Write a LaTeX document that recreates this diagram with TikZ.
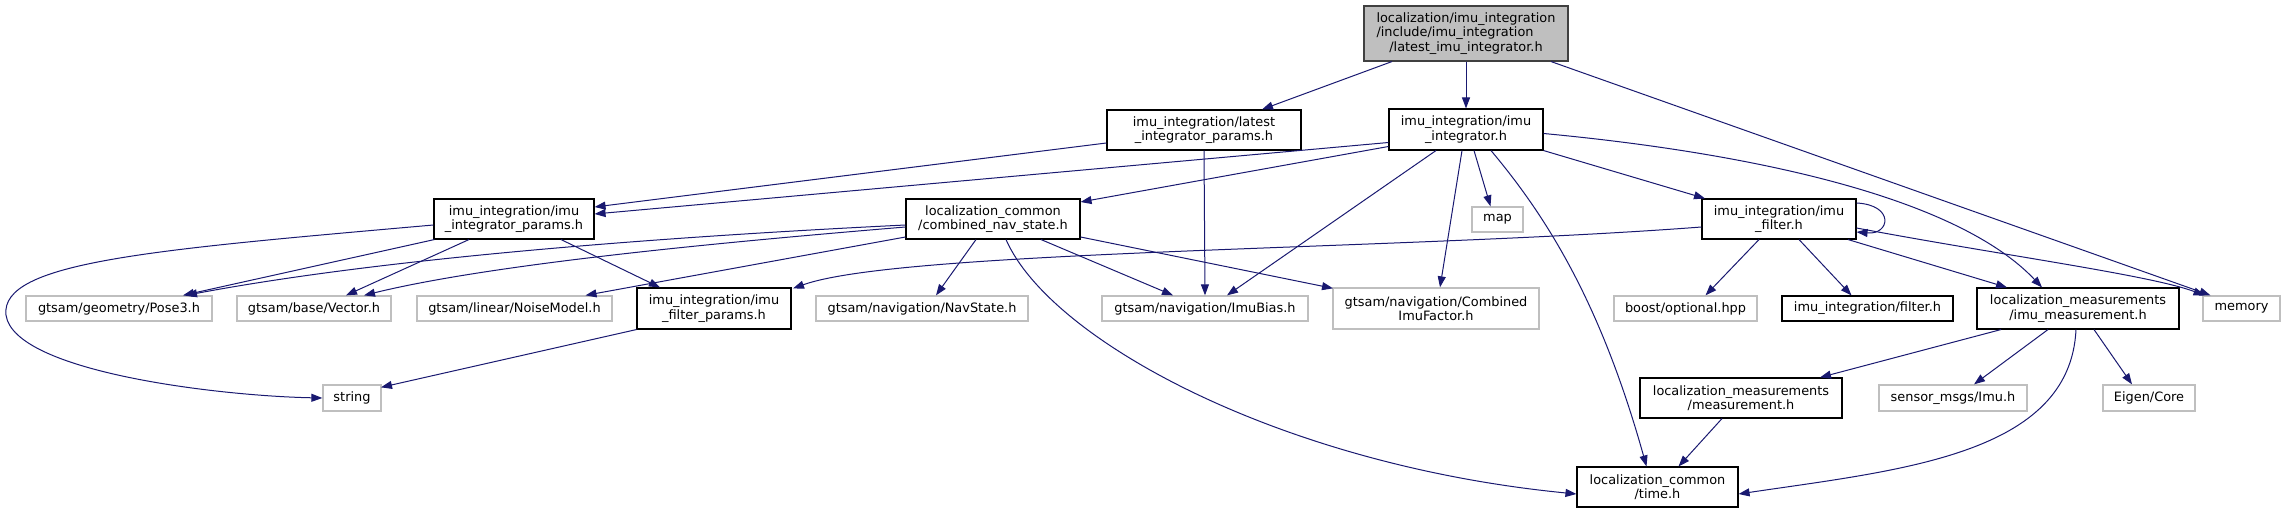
\documentclass[tikz,border=0pt]{standalone}
\usepackage{fontspec}
\setmainfont{DejaVu Sans}
\usetikzlibrary{arrows.meta}
\definecolor{edgeBlue}{RGB}{25,25,112}
\definecolor{boxGray}{RGB}{191,191,191}
\definecolor{rootLine}{RGB}{64,64,64}
\tikzset{
  hdr/.style={draw=black,line width=1.1pt,align=center,inner sep=1pt,font=\fontsize{12.9}{14.5}\selectfont},
  sys/.style={hdr,draw=boxGray,line width=1.3pt,minimum height=25pt},
  inc/.style={edgeBlue,line width=1pt,-{Triangle[length=11pt,width=8pt]}}
}

\begin{document}
\begin{tikzpicture}[x=1pt,y=-1pt]
\useasboundingbox (0,0) rectangle (2286,513);
% headers
\node[hdr,fill=boxGray,draw=rootLine,minimum width=204pt,minimum height=55pt] (root) at (1466,33.5) {\begin{tabular}{@{}l@{}}localization/imu\_integration\\/include/imu\_integration\end{tabular}\\/latest\_imu\_integrator.h};
\node[hdr,minimum width=194pt,minimum height=40pt] (latestp) at (1204,130) {imu\_integration/latest\\\_integrator\_params.h};
\node[hdr,minimum width=154pt,minimum height=41pt] (integ) at (1466,129.5) {imu\_integration/imu\\\_integrator.h};
\node[hdr,minimum width=160pt,minimum height=40pt] (intp) at (514,219) {imu\_integration/imu\\\_integrator\_params.h};
\node[hdr,minimum width=174pt,minimum height=40pt] (navst) at (993,219) {localization\_common\\/combined\_nav\_state.h};
\node[sys,minimum width=51pt] (map) at (1497.5,219.5) {map};
\node[hdr,minimum width=154pt,minimum height=40pt] (filt) at (1779,219) {imu\_integration/imu\\\_filter.h};
\node[sys,minimum width=186pt] (pose) at (119,308.5) {gtsam/geometry/Pose3.h};
\node[sys,minimum width=154pt] (vec) at (314,308.5) {gtsam/base/Vector.h};
\node[sys,minimum width=195pt] (noise) at (514.5,308.5) {gtsam/linear/NoiseModel.h};
\node[hdr,minimum width=154pt,minimum height=41pt] (fparams) at (714,308.5) {imu\_integration/imu\\\_filter\_params.h};
\node[sys,minimum width=212pt] (navh) at (922,308.5) {gtsam/navigation/NavState.h};
\node[sys,minimum width=206pt] (bias) at (1205,308.5) {gtsam/navigation/ImuBias.h};
\node[sys,minimum width=206pt,minimum height=41pt] (comb) at (1436,308.5) {gtsam/navigation/Combined\\ImuFactor.h};
\node[sys,minimum width=143pt] (opt) at (1685.5,308.5) {boost/optional.hpp};
\node[hdr,minimum width=171pt,minimum height=25pt] (filth) at (1867.5,308.5) {imu\_integration/filter.h};
\node[hdr,minimum width=202pt,minimum height=41pt] (imeas) at (2078,308.5) {localization\_measurements\\/imu\_measurement.h};
\node[sys,minimum width=77pt] (mem) at (2241.5,308.5) {memory};
\node[sys,minimum width=58pt,minimum height=26pt] (str) at (352,398) {string};
\node[hdr,minimum width=202pt,minimum height=40pt] (meas) at (1741,398) {localization\_measurements\\/measurement.h};
\node[sys,minimum width=148pt,minimum height=26pt] (imu) at (1953,398) {sensor\_msgs/Imu.h};
\node[sys,minimum width=92pt,minimum height=26pt] (eig) at (2149,398) {Eigen/Core};
\node[hdr,minimum width=161pt,minimum height=40pt] (time) at (1657.5,487) {localization\_common\\/time.h};
% includes of the root
\draw[inc] ([xshift=-74pt]root.south) -- ([xshift=58pt]latestp.north);
\draw[inc] (root.south) -- (integ.north);
\draw[inc] ([xshift=85pt]root.south) -- ([xshift=-31pt]mem.north);
% latest_integrator_params.h
\draw[inc] ([yshift=-13pt]latestp.west) -- ([yshift=12pt]intp.east);
\draw[inc] (latestp.south) -- (bias.north);
% imu_integrator.h
\draw[inc] ([yshift=-13pt]integ.west) -- ([yshift=5pt]intp.east);
\draw[inc] ([yshift=-17pt]integ.west) -- ([yshift=17pt]navst.east);
\draw[inc] ([xshift=-30pt]integ.south) -- ([xshift=22pt]bias.north);
\draw[inc] ([xshift=-4pt]integ.south) -- ([xshift=4pt]comb.north);
\draw[inc] ([xshift=8pt]integ.south) -- ([xshift=-7pt]map.north);
\draw[inc] ([xshift=25pt]integ.south) .. controls (1545,215) and (1600,300) .. ([xshift=-11pt]time.north);
\draw[inc] (integ.south east) -- ([xshift=-74pt]filt.north);
\draw[inc] ([yshift=-4pt]integ.east) .. controls (1720,150) and (1950,190) .. ([xshift=-36pt]imeas.north);
% imu_integrator_params.h
\draw[inc] ([yshift=-6pt]intp.west) .. controls (150,250) and (0,262) .. (6,315) .. controls (14,372) and (220,396) .. (str.west);
\draw[inc] ([xshift=1pt]intp.south west) -- ([xshift=64pt]pose.north);
\draw[inc] ([xshift=-45pt]intp.south) -- ([xshift=32pt]vec.north);
\draw[inc] ([xshift=47pt]intp.south) -- ([xshift=-54pt]fparams.north);
% combined_nav_state.h
\draw[inc] ([yshift=-6pt]navst.west) .. controls (700,235) and (400,255) .. ([xshift=67pt]pose.north);
\draw[inc] ([yshift=-8pt]navst.west) .. controls (750,240) and (500,262) .. ([xshift=50pt]vec.north);
\draw[inc] ([yshift=-18pt]navst.west) -- ([xshift=71pt]noise.north);
\draw[inc] ([xshift=-17pt]navst.south) -- ([xshift=14pt]navh.north);
\draw[inc] ([xshift=48pt]navst.south) -- ([xshift=-32pt]bias.north);
\draw[inc] ([yshift=-18pt]navst.east) -- ([xshift=-103pt,yshift=-1pt]comb.north);
\draw[inc] ([xshift=13pt]navst.south) .. controls (1050,340) and (1280,465) .. ([yshift=-7pt]time.west);
% imu_filter.h
\draw[inc] ([yshift=16pt]filt.east) .. controls (1895,205) and (1890,235) .. ([yshift=-13pt]filt.east);
\draw[inc] ([yshift=-8pt]filt.west) .. controls (1400,250) and (900,250) .. ([xshift=79pt,yshift=-1pt]fparams.north);
\draw[inc] ([xshift=-20pt]filt.south) -- ([xshift=20pt]opt.north);
\draw[inc] ([xshift=20pt]filt.south) -- ([xshift=-16pt]filth.north);
\draw[inc] ([xshift=69pt]filt.south) -- ([xshift=-71pt]imeas.north);
\draw[inc] ([yshift=-9pt]filt.east) .. controls (2000,255) and (2150,275) .. ([xshift=-37pt]mem.north);
% imu_filter_params.h
\draw[inc] (fparams.south west) -- ([xshift=29pt,yshift=-3pt]str.north);
% imu_measurement.h
\draw[inc] ([xshift=-77pt]imeas.south) -- ([xshift=79pt]meas.north);
\draw[inc] ([xshift=-30pt]imeas.south) -- ([xshift=21pt]imu.north);
\draw[inc] ([xshift=16pt]imeas.south) -- ([xshift=-17pt]eig.north);
\draw[inc] ([xshift=-2pt]imeas.south) .. controls (2070,455) and (1900,470) .. ([yshift=-7pt]time.east);
% measurement.h
\draw[inc] ([xshift=-19pt]meas.south) -- ([xshift=21pt]time.north);
\end{tikzpicture}
\end{document}
